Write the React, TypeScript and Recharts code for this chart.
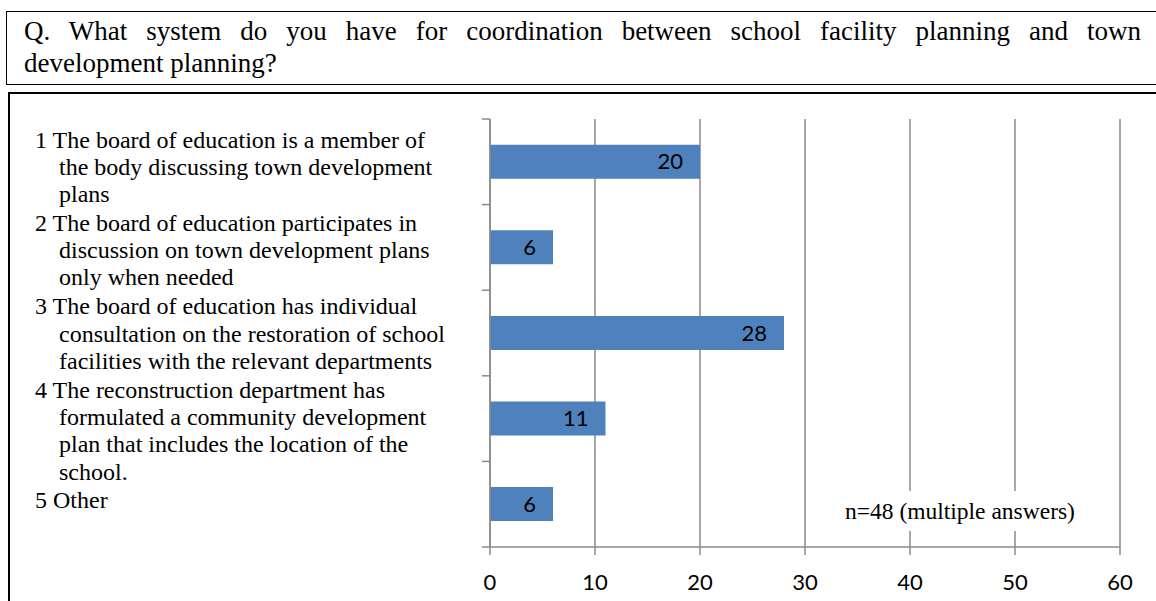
import React from "react";
import { BarChart, Bar, XAxis, YAxis, CartesianGrid, LabelList } from "recharts";

const categories = ["1", "2", "3", "4", "5"];
const values = [20, 6, 28, 11, 6];
const categoryLabels: string[][] = [
  ["1 The board of education is a member of", "the body discussing town development", "plans"],
  ["2 The board of education participates in", "discussion on town development plans", "only when needed"],
  ["3 The board of education has individual", "consultation on the restoration of school", "facilities with the relevant departments"],
  ["4 The reconstruction department has", "formulated a community development", "plan that includes the location of the", "school."],
  ["5 Other"],
];
const xTicks = [0, 10, 20, 30, 40, 50, 60];
const titleLine1 = "Q. What system do you have for coordination between school facility planning and town";
const titleLine2 = "development planning?";
const noteText = "n=48 (multiple answers)";

const data = categories.map((c, i) => ({ cat: c, value: values[i] }));

const SERIF = "'Liberation Serif', 'Times New Roman', serif";
const SANS = "Lato, 'Open Sans', sans-serif";
const GRID = "#8a8a8a";
const TICK_LEN = 8;

// Excel-style category ticks: drawn at the band boundaries (band centre +/- half band)
function BoundaryTick(props: any) {
  const { x, y, payload, index, visibleTicksCount } = props;
  const half = payload && typeof payload.offset === "number" ? payload.offset : 0;
  const isLast = index === visibleTicksCount - 1;
  return (
    <g>
      <line x1={x - TICK_LEN} x2={x} y1={y - half} y2={y - half} stroke={GRID} strokeWidth={1.5} />
      {isLast && (
        <line x1={x - TICK_LEN} x2={x} y1={y + half} y2={y + half} stroke={GRID} strokeWidth={1.5} />
      )}
    </g>
  );
}

export default function App() {
  return (
    <div
      style={{
        position: "absolute",
        left: 0,
        top: 0,
        width: 1156,
        height: 601,
        overflow: "hidden",
        background: "#fff",
        color: "#000",
      }}
    >
      {/* title box */}
      <div
        style={{
          position: "absolute",
          left: 6,
          top: 11,
          width: 1300,
          height: 74,
          boxSizing: "border-box",
          border: "1.5px solid #000",
        }}
      />
      <div
        style={{
          position: "absolute",
          left: 24,
          top: 15,
          width: 1117,
          fontFamily: SERIF,
          fontSize: 27,
          lineHeight: "32px",
          whiteSpace: "nowrap",
        }}
      >
        <div style={{ textAlign: "justify", textAlignLast: "justify", whiteSpace: "normal" }}>{titleLine1}</div>
        <div>{titleLine2}</div>
      </div>

      {/* chart box */}
      <div
        style={{
          position: "absolute",
          left: 8,
          top: 92,
          width: 1300,
          height: 700,
          boxSizing: "border-box",
          border: "2px solid #000",
        }}
      />

      {/* category labels */}
      <div
        style={{
          position: "absolute",
          left: 35,
          top: 126.5,
          fontFamily: SERIF,
          fontSize: 24,
          lineHeight: "27.3px",
          whiteSpace: "nowrap",
        }}
      >
        {categoryLabels.map((lines, i) => (
          <div key={i} style={{ marginTop: i === 0 ? 0 : 1.5 }}>
            {lines.map((ln, j) => (
              <div key={j} style={{ paddingLeft: j === 0 ? 0 : 24 }}>
                {ln}
              </div>
            ))}
          </div>
        ))}
      </div>

      <div style={{ position: "absolute", left: 0, top: 0 }}>
        <BarChart
          layout="vertical"
          width={1156}
          height={601}
          data={data}
          margin={{ top: 119, right: 36, bottom: 4, left: 480 }}
          barCategoryGap="30%"
        >
          <CartesianGrid horizontal={false} vertical stroke={GRID} strokeWidth={1.5} />
          <XAxis
            type="number"
            domain={[0, 60]}
            ticks={xTicks}
            interval={0}
            tickSize={8}
            tickMargin={19}
            height={50}
            axisLine={{ stroke: GRID, strokeWidth: 1.5 }}
            tickLine={{ stroke: GRID, strokeWidth: 1.5 }}
            tick={{ fill: "#000", fontSize: 22, fontFamily: SANS }}
          />
          <YAxis
            type="category"
            dataKey="cat"
            width={10}
            interval={0}
            tickSize={0}
            tickMargin={0}
            tickLine={false}
            axisLine={{ stroke: GRID, strokeWidth: 1.5 }}
            tick={<BoundaryTick />}
          />
          <Bar dataKey="value" fill="#4F81BD" isAnimationActive={false}>
            <LabelList
              dataKey="value"
              position="insideRight"
              offset={17}
              fill="#000"
              fontSize={22}
              fontFamily={SANS}
            />
          </Bar>
        </BarChart>
      </div>

      {/* note */}
      <div
        style={{
          position: "absolute",
          left: 835,
          top: 491,
          width: 255,
          height: 40,
          background: "#fff",
          fontFamily: SERIF,
          fontSize: 23.5,
          lineHeight: "40px",
          paddingLeft: 10,
          boxSizing: "border-box",
          whiteSpace: "nowrap",
        }}
      >
        {noteText}
      </div>
    </div>
  );
}
